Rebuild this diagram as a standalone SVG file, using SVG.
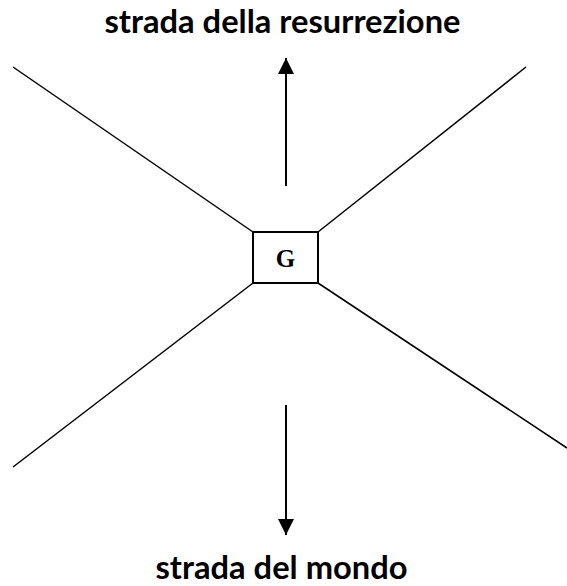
<svg xmlns="http://www.w3.org/2000/svg" width="567" height="586" viewBox="0 0 567 586">
<style>
.ln{stroke:#000;stroke-width:1.5;fill:none}
.lbl{font-family:Lato,"Open Sans","Liberation Sans",sans-serif;font-weight:bold;font-size:32px;fill:#000;text-anchor:middle}
</style>
<defs>
<marker id="ah" markerUnits="userSpaceOnUse" markerWidth="16" markerHeight="17" refX="16" refY="8" orient="auto" viewBox="0 0 16 16">
<path d="M0,0 L16,8 L0,16 Z" fill="#000"/>
</marker>
</defs>
<rect width="567" height="586" fill="#fff"/>
<g id="connectors">
<line class="ln" x1="13" y1="67" x2="253" y2="232"/>
<line class="ln" x1="526" y1="67" x2="318" y2="232"/>
<line class="ln" x1="13" y1="467" x2="253" y2="283"/>
<line class="ln" x1="318" y1="283" x2="567" y2="448"/>
<line class="ln" x1="286" y1="186" x2="286" y2="58" style="stroke-width:2" marker-end="url(#ah)"/>
<line class="ln" x1="286" y1="405" x2="286" y2="535" style="stroke-width:2" marker-end="url(#ah)"/>
</g>
<g id="node-G">
<rect x="253" y="232" width="65" height="51" fill="#fff" stroke="#000" stroke-width="2"/>
<text x="285.5" y="267" font-family="Liberation Serif,serif" font-weight="bold" font-size="25" text-anchor="middle">G</text>
</g>
<g id="label-top">
<text class="lbl" x="282.5" y="33" textLength="356" lengthAdjust="spacingAndGlyphs">strada della resurrezione</text>
</g>
<g id="label-bottom">
<text class="lbl" x="281.5" y="579" font-size="31" textLength="252" lengthAdjust="spacingAndGlyphs">strada del mondo</text>
</g>
</svg>
